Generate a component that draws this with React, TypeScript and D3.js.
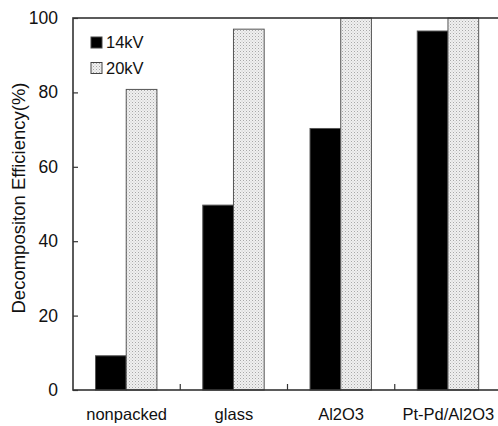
import React, { useEffect, useRef } from "react";
import * as d3 from "d3";

const categories = ["nonpacked", "glass", "Al2O3", "Pt-Pd/Al2O3"];
const seriesNames = ["14kV", "20kV"];
const values14kV = [9.2, 49.7, 70.3, 96.5];
const values20kV = [80.8, 97.0, 100, 100];
const yTicks = [0, 20, 40, 60, 80, 100];

const W = 498;
const H = 426;
const M = { left: 73, top: 18, right: 502, bottom: 390 };

export default function App() {
  const ref = useRef<SVGSVGElement>(null);

  useEffect(() => {
    const svg = d3.select(ref.current);
    svg.selectAll("*").remove();
    const font = "'Liberation Sans', Arial, sans-serif";

    const defs = svg.append("defs");
    const pat = defs
      .append("pattern")
      .attr("id", "dots")
      .attr("patternUnits", "userSpaceOnUse")
      .attr("width", 3)
      .attr("height", 3);
    pat.append("rect").attr("width", 3).attr("height", 3).attr("fill", "#f0f0f0");
    pat.append("rect").attr("x", 0).attr("y", 0).attr("width", 1).attr("height", 1).attr("fill", "#a8a8a8");
    pat.append("rect").attr("x", 1.5).attr("y", 1.5).attr("width", 1).attr("height", 1).attr("fill", "#c4c4c4");

    const x = d3.scaleBand<string>().domain(categories).range([M.left, M.right]).padding(0);
    const gw = x.bandwidth();
    const inner = d3
      .scaleBand<string>()
      .domain(seriesNames)
      .range([gw * 0.21, gw * 0.21 + 61.4])
      .padding(0);
    const y = d3.scaleLinear().domain([0, 100]).range([M.bottom, M.top]);

    const data = [values14kV, values20kV];
    const fills = ["#000", "url(#dots)"];

    seriesNames.forEach((s, si) => {
      svg
        .append("g")
        .selectAll("rect")
        .data(categories)
        .join("rect")
        .attr("x", (c) => (x(c) as number) + (inner(s) as number))
        .attr("y", (c, i) => y(data[si][i]))
        .attr("width", inner.bandwidth())
        .attr("height", (c, i) => M.bottom - y(data[si][i]))
        .attr("fill", fills[si])
        .attr("stroke", "#555")
        .attr("stroke-width", 1);
    });

    // frame
    svg
      .append("rect")
      .attr("x", M.left)
      .attr("y", M.top)
      .attr("width", M.right - M.left)
      .attr("height", M.bottom - M.top)
      .attr("fill", "none")
      .attr("stroke", "#333")
      .attr("stroke-width", 1.6);

    // y ticks (inward)
    const yAxis = d3.axisRight(y).tickValues(yTicks).tickSize(5).tickFormat(() => "");
    const ya = svg.append("g").attr("transform", `translate(${M.left},0)`).call(yAxis);
    ya.select(".domain").remove();
    ya.selectAll("line").attr("stroke", "#333").attr("stroke-width", 1.2);

    svg
      .append("g")
      .selectAll("text")
      .data(yTicks)
      .join("text")
      .attr("x", 58)
      .attr("y", (d) => y(d) + 6)
      .attr("text-anchor", "end")
      .attr("font-family", font)
      .attr("font-size", 17.5)
      .attr("fill", "#111")
      .text((d) => String(d));

    // x ticks at group boundaries (inward)
    const bounds = categories.slice(1).map((c) => x(c) as number);
    svg
      .append("g")
      .selectAll("line")
      .data(bounds)
      .join("line")
      .attr("x1", (d) => d)
      .attr("x2", (d) => d)
      .attr("y1", M.bottom)
      .attr("y2", M.bottom - 6)
      .attr("stroke", "#333")
      .attr("stroke-width", 1.2);

    // x labels
    svg
      .append("g")
      .selectAll("text")
      .data(categories)
      .join("text")
      .attr("x", (c) => (x(c) as number) + gw / 2)
      .attr("y", 420)
      .attr("text-anchor", "middle")
      .attr("font-family", font)
      .attr("font-size", 16.5)
      .attr("fill", "#111")
      .text((c) => c);

    // y axis label
    svg
      .append("text")
      .attr("transform", `translate(25,198) rotate(-90)`)
      .attr("text-anchor", "middle")
      .attr("font-family", font)
      .attr("font-size", 18.5)
      .attr("fill", "#111")
      .text("Decompositon Efficiency(%)");

    // legend
    const lg = svg.append("g");
    seriesNames.forEach((s, i) => {
      const ly = 37 + i * 25.5;
      lg.append("rect")
        .attr("x", 91)
        .attr("y", ly)
        .attr("width", 11)
        .attr("height", 11)
        .attr("fill", fills[i])
        .attr("stroke", "#444")
        .attr("stroke-width", 1);
      lg.append("text")
        .attr("x", 106)
        .attr("y", ly + 11)
        .attr("font-family", font)
        .attr("font-size", 16.5)
        .attr("fill", "#111")
        .text(s);
    });
  }, []);

  return (
    <svg
      ref={ref}
      width={W}
      height={H}
      style={{ position: "absolute", left: 0, top: 0, background: "#fff" }}
    />
  );
}
